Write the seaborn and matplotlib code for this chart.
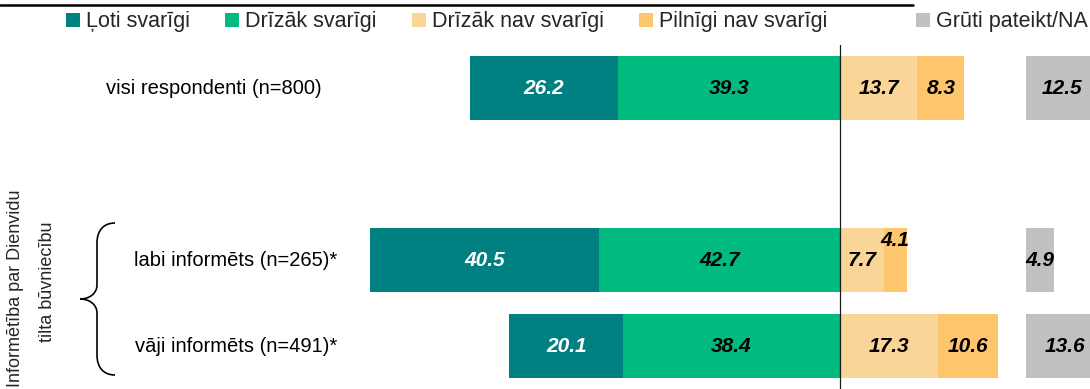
import matplotlib
matplotlib.use("Agg")
import matplotlib.pyplot as plt
from matplotlib.patches import Patch, PathPatch
from matplotlib.path import Path
from matplotlib.lines import Line2D
from matplotlib.transforms import Affine2D, blended_transform_factory
import pandas as pd
import seaborn as sns

# ---- data -------------------------------------------------------------
groups = ["visi respondenti (n=800)", "labi informēts (n=265)*", "vāji informēts (n=491)*"]
row_order = ["visi respondenti (n=800)", "", "labi informēts (n=265)*", "vāji informēts (n=491)*"]
answers = ["Ļoti svarīgi", "Drīzāk svarīgi", "Drīzāk nav svarīgi",
           "Pilnīgi nav svarīgi", "Grūti pateikt/NA"]
loti = [26.2, 40.5, 20.1]
drizak = [39.3, 42.7, 38.4]
drizak_nav = [13.7, 7.7, 17.3]
pilnigi_nav = [8.3, 4.1, 10.6]
gruti = [12.5, 4.9, 13.6]
group_title = ["Informētība par Dienvidu", "tilta būvniecību"]

colors = ["#008080", "#00BA80", "#FAD598", "#FDC56C", "#C0C0C0"]

# ---- layout -----------------------------------------------------------
W, H = 1090, 389
ZERO_PX = 840          # horizontal pixel of the zero line
PX_PER_UNIT = 5.65
NA_START = 33          # separate column for "hard to say"
BAR_H = 0.75
label_x = [214, 236, 236]

sns.set_theme(style="white")
plt.rcParams["font.family"] = ["Liberation Sans", "DejaVu Sans"]

fig = plt.figure(figsize=(W / 100, H / 100), dpi=100)
ax = fig.add_axes([0, 0, 1, 1 - 45 / H])
px = Affine2D().scale(1 / W, -1 / H).translate(0, 1) + fig.transFigure

df = pd.DataFrame({"group": groups, "loti": loti, "drizak": drizak,
                   "drizak_nav": drizak_nav, "pilnigi_nav": pilnigi_nav,
                   "gruti": gruti})
df["neg_outer"] = -(df["loti"] + df["drizak"])
df["neg_inner"] = -df["drizak"]
df["pos_outer"] = df["drizak_nav"] + df["pilnigi_nav"]
df["pos_inner"] = df["drizak_nav"]

# diverging stack: outer layers first, inner layers drawn over them
for col, c in [("neg_outer", colors[0]), ("neg_inner", colors[1]),
               ("pos_outer", colors[3]), ("pos_inner", colors[2])]:
    sns.barplot(data=df, x=col, y="group", order=row_order, orient="h",
                color=c, saturation=1, width=BAR_H, errorbar=None,
                linewidth=0, ax=ax)

ypos = [row_order.index(g) for g in groups]
ax.barh(ypos, df["gruti"], left=NA_START, height=BAR_H, color=colors[4],
        linewidth=0)

ax.axvline(0, color="#1a1a1a", lw=0.9, zorder=5)
ax.set_xlim(-ZERO_PX / PX_PER_UNIT, (W - ZERO_PX) / PX_PER_UNIT)
ax.set_ylim(len(row_order) - 0.5, -0.5)
ax.axis("off")

# ---- value labels -------------------------------------------------------
val_kw = dict(ha="center", va="center", fontsize=15, fontweight="bold",
              fontstyle="italic", zorder=6)
for i, y in enumerate(ypos):
    r = df.iloc[i]
    ax.text(-(r.drizak + r.loti / 2), y, f"{r.loti:.1f}", color="white", **val_kw)
    ax.text(-r.drizak / 2, y, f"{r.drizak:.1f}", color="black", **val_kw)
    ax.text(r.drizak_nav / 2, y, f"{r.drizak_nav:.1f}", color="black", **val_kw)
    lift = 20 if r.pilnigi_nav < 5 else 0
    ax.annotate(f"{r.pilnigi_nav:.1f}", (r.drizak_nav + r.pilnigi_nav / 2, y),
                xytext=(0, lift), textcoords="offset pixels", color="black",
                **val_kw)
    ax.text(NA_START + r.gruti / 2, y, f"{r.gruti:.1f}", color="black", **val_kw)

# ---- category labels ---------------------------------------------------
cat_tr = blended_transform_factory(px, ax.transData)
for g, y, x in zip(groups, ypos, label_x):
    ax.text(x, y, g, transform=cat_tr, ha="center", va="center",
            fontsize=14.5, color="black")

# group title (rotated) and curly brace
fig.text(20, 288, group_title[0], transform=px, rotation=90,
         rotation_mode="anchor", ha="center", va="baseline", fontsize=13)
fig.text(52, 282, group_title[1], transform=px, rotation=90,
         rotation_mode="anchor", ha="center", va="baseline", fontsize=13)

brace = Path(
    [(115, 223), (104, 223), (97, 230), (97, 243),
     (97, 285),
     (97, 293), (90, 299), (80, 299),
     (90, 299), (97, 305), (97, 313),
     (97, 355),
     (97, 368), (104, 375), (115, 375)],
    [Path.MOVETO, Path.CURVE4, Path.CURVE4, Path.CURVE4,
     Path.LINETO,
     Path.CURVE4, Path.CURVE4, Path.CURVE4,
     Path.CURVE4, Path.CURVE4, Path.CURVE4,
     Path.LINETO,
     Path.CURVE4, Path.CURVE4, Path.CURVE4])
fig.add_artist(PathPatch(brace, transform=px, facecolor="none",
                         edgecolor="black", lw=1.2))

# title rule
fig.add_artist(Line2D([0, 913], [5, 5], transform=px, color="black", lw=1.8))

# ---- legend --------------------------------------------------------------
handles = [Patch(facecolor=c, edgecolor="none") for c in colors]
leg_kw = dict(loc="center left", bbox_transform=px, frameon=False, fontsize=15.5,
              handlelength=0.65, handleheight=0.65, handletextpad=0.28,
              columnspacing=1.63, borderpad=0, borderaxespad=0)
fig.legend(handles[:4], answers[:4], bbox_to_anchor=(66, 22), ncol=4, **leg_kw)
fig.legend(handles[4:], answers[4:], bbox_to_anchor=(916, 22), ncol=1, **leg_kw)

fig.savefig("out.png", dpi=100)
